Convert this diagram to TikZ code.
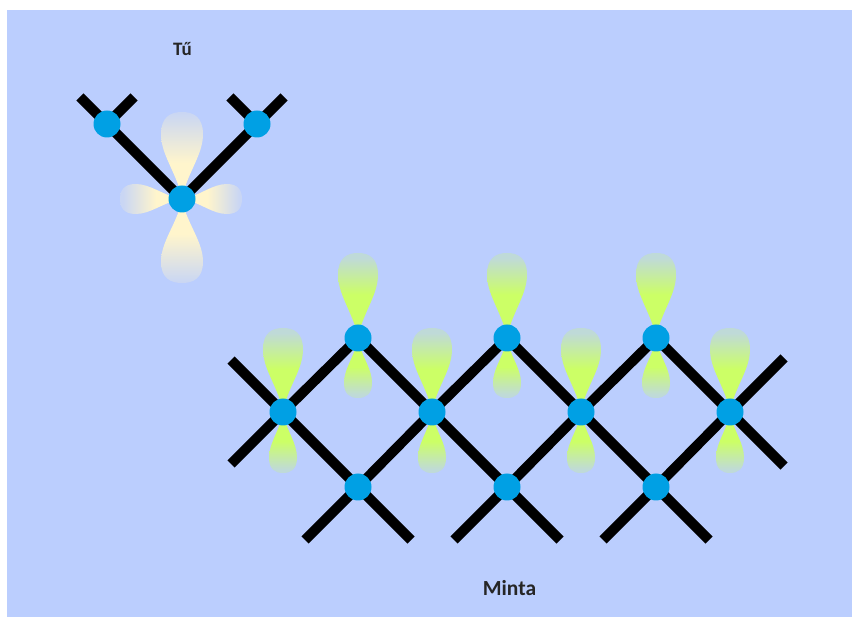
\documentclass[tikz,border=0pt]{standalone}
\usepackage{fontspec}
\setmainfont{Carlito}

\definecolor{bgblue}{HTML}{BBCEFE}
\definecolor{atom}{HTML}{00A0E4}
\definecolor{lobegreen}{HTML}{CCFF66}
\definecolor{lobecream}{HTML}{FFF5CC}
\colorlet{greentip}{lobegreen!25!bgblue}
\colorlet{creamtip}{lobecream!20!bgblue}

% Lobe shadings (the path's box spans 25bp..75bp)
\pgfdeclareverticalshading{greenup}{100bp}{color(0bp)=(lobegreen); color(50bp)=(lobegreen); color(72bp)=(greentip); color(100bp)=(greentip)}
\pgfdeclareverticalshading{greendown}{100bp}{color(0bp)=(greentip); color(28bp)=(greentip); color(52bp)=(lobegreen); color(100bp)=(lobegreen)}
\pgfdeclareverticalshading{creamup}{100bp}{color(0bp)=(lobecream); color(45bp)=(lobecream); color(75bp)=(creamtip); color(100bp)=(creamtip)}
\pgfdeclareverticalshading{creamdown}{100bp}{color(0bp)=(creamtip); color(25bp)=(creamtip); color(55bp)=(lobecream); color(100bp)=(lobecream)}
\pgfdeclarehorizontalshading{creamleft}{100bp}{color(0bp)=(creamtip); color(27bp)=(creamtip); color(55bp)=(lobecream); color(100bp)=(lobecream)}
\pgfdeclarehorizontalshading{creamright}{100bp}{color(0bp)=(lobecream); color(45bp)=(lobecream); color(73bp)=(creamtip); color(100bp)=(creamtip)}

% Vertical orbital lobe: #1,#2 base point, #3 = -1 (up) or 1 (down),
% #4 length, #5 half width, #6 shading name
\newcommand\vlobe[6]{%
  \begin{scope}[shift={(#1,#2)}]
    \shade[shading=#6] (0,0)
      .. controls ({-0.3*#5},{0.3*#3*#4}) and ({-#5},{0.5*#3*#4}) .. ({-#5},{0.74*#3*#4})
      .. controls ({-#5},{0.94*#3*#4}) and ({-0.55*#5},{#3*#4}) .. (0,{#3*#4})
      .. controls ({0.55*#5},{#3*#4}) and ({#5},{0.94*#3*#4}) .. ({#5},{0.74*#3*#4})
      .. controls ({#5},{0.5*#3*#4}) and ({0.3*#5},{0.3*#3*#4}) .. cycle;
  \end{scope}}
% Horizontal orbital lobe: #3 = -1 (left) or 1 (right)
\newcommand\hlobe[6]{%
  \begin{scope}[shift={(#1,#2)}]
    \shade[shading=#6] (0,0)
      .. controls ({0.3*#3*#4},{-0.3*#5}) and ({0.5*#3*#4},{-#5}) .. ({0.74*#3*#4},{-#5})
      .. controls ({0.94*#3*#4},{-#5}) and ({#3*#4},{-0.55*#5}) .. ({#3*#4},0)
      .. controls ({#3*#4},{0.55*#5}) and ({0.94*#3*#4},{#5}) .. ({0.74*#3*#4},{#5})
      .. controls ({0.5*#3*#4},{#5}) and ({0.3*#3*#4},{0.3*#5}) .. cycle;
  \end{scope}}

\begin{document}
\begin{tikzpicture}[x=1pt,y=-1pt]
\tikzset{
  bond/.style={line width=10pt, draw=black, line cap=butt, line join=miter},
  atomdot/.style={circle, fill=atom, minimum size=27pt, inner sep=0pt},
  caption/.style={font=\bfseries, text=black!85, anchor=base, inner sep=0pt},
}
\useasboundingbox (0,0) rectangle (852,617);
\fill[bgblue] (7,10) rectangle (852,617);

% ---- single chain unit ----
\coordinate (c) at (182,199);
\coordinate (l) at (107,124);
\coordinate (r) at (257,124);
\coordinate (la) at (80,97);
\coordinate (lb) at (134,97);
\coordinate (ra) at (230,97);
\coordinate (rb) at (284,97);

\vlobe{182}{197}{-1}{85}{21}{creamup}
\vlobe{182}{201}{1}{82}{21}{creamdown}
\hlobe{180}{199}{-1}{60}{15}{creamleft}
\hlobe{184}{199}{1}{58}{15}{creamright}

\draw[bond] (la) -- (l) -- (c) -- (r) -- (rb);
\draw[bond] (l) -- (lb);
\draw[bond] (r) -- (ra);
\node[atomdot] (atomL) at (l) {};
\node[atomdot] (atomR) at (r) {};
\node[atomdot] (atomC) at (c) {};
\node[caption, font=\bfseries\fontsize{19}{22}\selectfont] (tu) at (182.5,55.5) {Tű};

% ---- lattice ----
\coordinate (t1) at (358,338);
\coordinate (t2) at (507,338);
\coordinate (t3) at (656,338);
\coordinate (m1) at (283,412);
\coordinate (m2) at (432,412);
\coordinate (m3) at (581,412);
\coordinate (m4) at (730,412);
\coordinate (b1) at (358,487);
\coordinate (b2) at (507,487);
\coordinate (b3) at (656,487);
\coordinate (e1) at (231,360);
\coordinate (e2) at (411,540);
\coordinate (e3) at (560,540);
\coordinate (e4) at (709,540);
\coordinate (e5) at (784,466);
\coordinate (e6) at (231,464);
\coordinate (e7) at (305,540);
\coordinate (e8) at (454,540);
\coordinate (e9) at (603,540);
\coordinate (e10) at (784,358);

\foreach \x in {358,507,656}{
  \vlobe{\x}{336}{-1}{83}{20}{greenup}
  \vlobe{\x}{340}{1}{58}{14}{greendown}
}
\foreach \x in {283,432,581,730}{
  \vlobe{\x}{410}{-1}{82}{20}{greenup}
  \vlobe{\x}{414}{1}{59}{14}{greendown}
}

\draw[bond] (e1) -- (m1) -- (b1) -- (e2);
\draw[bond] (t1) -- (m2) -- (b2) -- (e3);
\draw[bond] (t2) -- (m3) -- (b3) -- (e4);
\draw[bond] (t3) -- (m4) -- (e5);
\draw[bond] (e6) -- (m1) -- (t1);
\draw[bond] (e7) -- (b1) -- (m2) -- (t2);
\draw[bond] (e8) -- (b2) -- (m3) -- (t3);
\draw[bond] (e9) -- (b3) -- (m4) -- (e10);

\foreach \p in {t1,t2,t3,m1,m2,m3,m4,b1,b2,b3}{
  \node[atomdot] (atom-\p) at (\p) {};
}
\node[caption, font=\bfseries\fontsize{21.5}{25}\selectfont] (minta) at (509.5,595) {Minta};
\end{tikzpicture}
\end{document}
